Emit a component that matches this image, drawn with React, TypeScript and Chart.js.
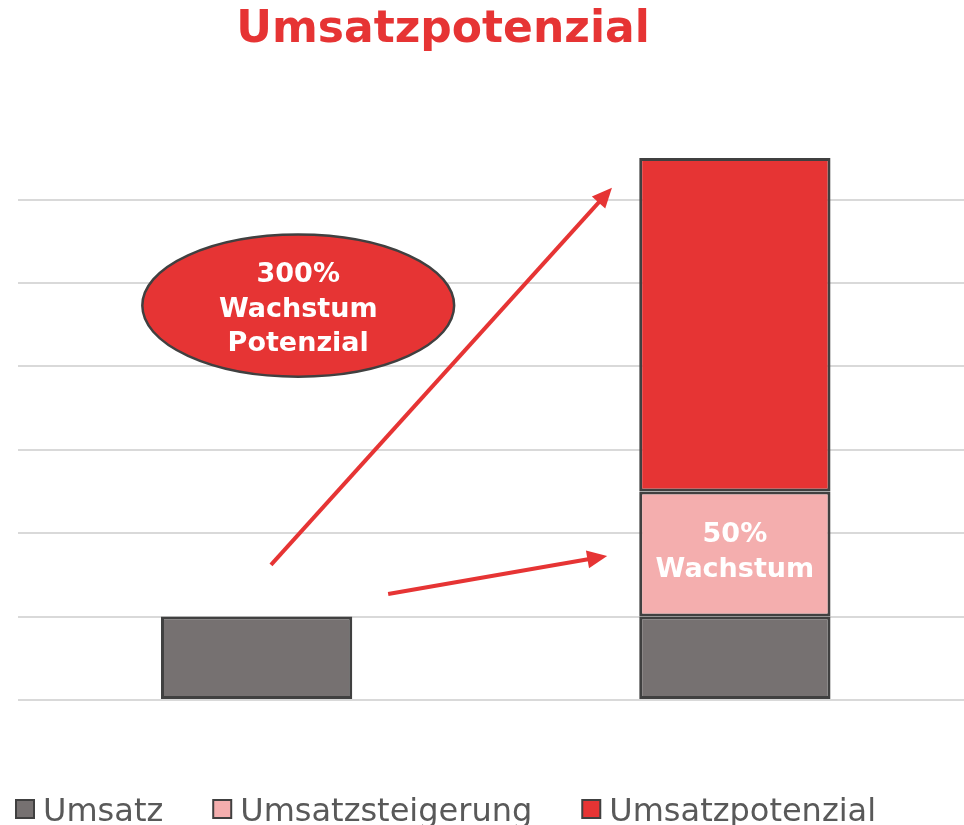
import React, { useEffect, useRef } from "react";
import { Chart, registerables } from "chart.js";

Chart.register(...registerables);

// ---- data ----
const categories = ["Heute", "Potenzial"];
const seriesNames = ["Umsatz", "Umsatzsteigerung", "Umsatzpotenzial"];
const umsatz = [1, 1];
const umsatzsteigerung = [null, 1.5];
const umsatzpotenzial = [null, 4];
const yMax = 6.5;
const titleText = "Umsatzpotenzial";
const bubbleLines = ["300%", "Wachstum", "Potenzial"];
const growthLines = ["50%", "Wachstum"];

// ---- style ----
const RED = "#e63434";
const PINK = "#f4aeae";
const GRAY = "#767171";
const STROKE = "#404040";
const FONT = "'DejaVu Sans', sans-serif";

// annotation anchors in data space (x = category index, y = value)
const bubble = { x: 0.087, y: 4.73, rx: 0.326, ry: 0.852 };
const arrowBig = { x0: 0.03, y0: 1.62, x1: 0.743, y1: 6.144 };
const arrowSmall = { x0: 0.275, y0: 1.272, x1: 0.733, y1: 1.728 };

function drawArrow(ctx: CanvasRenderingContext2D, ax: number, ay: number, bx: number, by: number) {
  const ang = Math.atan2(by - ay, bx - ax);
  const head = 20;
  const half = 9;
  const lx = bx - Math.cos(ang) * head;
  const ly = by - Math.sin(ang) * head;
  ctx.save();
  ctx.strokeStyle = RED;
  ctx.fillStyle = RED;
  ctx.lineWidth = 4;
  ctx.beginPath();
  ctx.moveTo(ax, ay);
  ctx.lineTo(lx + Math.cos(ang) * 2, ly + Math.sin(ang) * 2);
  ctx.stroke();
  ctx.beginPath();
  ctx.moveTo(bx, by);
  ctx.lineTo(lx + Math.sin(ang) * half, ly - Math.cos(ang) * half);
  ctx.lineTo(lx - Math.sin(ang) * half, ly + Math.cos(ang) * half);
  ctx.closePath();
  ctx.fill();
  ctx.restore();
}

const decorPlugin = {
  id: "decor",
  afterDatasetsDraw(chart: any) {
    const { ctx } = chart;
    const x = chart.scales.x;
    const y = chart.scales.y;

    // arrows
    drawArrow(ctx, x.getPixelForValue(arrowBig.x0), y.getPixelForValue(arrowBig.y0), x.getPixelForValue(arrowBig.x1), y.getPixelForValue(arrowBig.y1));
    drawArrow(ctx, x.getPixelForValue(arrowSmall.x0), y.getPixelForValue(arrowSmall.y0), x.getPixelForValue(arrowSmall.x1), y.getPixelForValue(arrowSmall.y1));

    // bubble
    const cx = x.getPixelForValue(bubble.x);
    const cy = y.getPixelForValue(bubble.y);
    const rx = Math.abs(x.getPixelForValue(bubble.x + bubble.rx) - cx);
    const ry = Math.abs(y.getPixelForValue(bubble.y + bubble.ry) - cy);
    ctx.save();
    ctx.beginPath();
    ctx.ellipse(cx, cy, rx, ry, 0, 0, Math.PI * 2);
    ctx.fillStyle = RED;
    ctx.fill();
    ctx.lineWidth = 2.5;
    ctx.strokeStyle = STROKE;
    ctx.stroke();
    ctx.fillStyle = "#ffffff";
    ctx.font = `bold 27px ${FONT}`;
    ctx.textAlign = "center";
    ctx.textBaseline = "alphabetic";
    const offs = [-24, 11, 45];
    bubbleLines.forEach((t, i) => ctx.fillText(t, cx, cy + offs[i]));

    // growth label inside pink segment
    const gx = x.getPixelForValue(1);
    const base = umsatz[1] as number;
    const gy = y.getPixelForValue(base + (umsatzsteigerung[1] as number) / 2);
    const goffs = [-12, 23];
    growthLines.forEach((t, i) => ctx.fillText(t, gx, gy + goffs[i]));
    ctx.restore();
  },
  afterDraw(chart: any) {
    const { ctx } = chart;
    ctx.save();
    // title
    ctx.fillStyle = RED;
    ctx.font = `bold 44px ${FONT}`;
    ctx.textAlign = "center";
    ctx.textBaseline = "alphabetic";
    ctx.fillText(titleText, 443, 42);

    // legend
    const colors = [GRAY, PINK, RED];
    ctx.font = `32px ${FONT}`;
    ctx.textAlign = "left";
    let px = 16;
    seriesNames.forEach((name, i) => {
      ctx.fillStyle = colors[i];
      ctx.fillRect(px, 800, 18, 18);
      ctx.lineWidth = 2;
      ctx.strokeStyle = STROKE;
      ctx.strokeRect(px, 800, 18, 18);
      ctx.fillStyle = "#595959";
      ctx.fillText(name, px + 27, 821);
      px += 27 + ctx.measureText(name).width + 50;
    });
    ctx.restore();
  },
};

export default function App() {
  const ref = useRef<HTMLCanvasElement>(null);

  useEffect(() => {
    if (!ref.current) return;
    const chart = new Chart(ref.current, {
      type: "bar",
      data: {
        labels: categories,
        datasets: [
          { label: seriesNames[0], data: umsatz, backgroundColor: GRAY, borderColor: STROKE, borderWidth: 3, borderSkipped: false },
          { label: seriesNames[1], data: umsatzsteigerung, backgroundColor: PINK, borderColor: STROKE, borderWidth: 3, borderSkipped: false },
          { label: seriesNames[2], data: umsatzpotenzial, backgroundColor: RED, borderColor: STROKE, borderWidth: 3, borderSkipped: false },
        ],
      },
      options: {
        responsive: false,
        animation: false,
        events: [],
        layout: { padding: { top: 158, bottom: 125, left: 0, right: 0 } },
        datasets: { bar: { barPercentage: 0.4, categoryPercentage: 1 } },
        plugins: { legend: { display: false }, title: { display: false }, tooltip: { enabled: false } },
        scales: {
          x: { stacked: true, display: false },
          y: {
            stacked: true,
            min: 0,
            max: yMax,
            ticks: { display: false, stepSize: 1, includeBounds: false },
            border: { display: false },
            grid: { color: "#d9d9d9", lineWidth: 2, drawTicks: false },
            afterFit: (s: any) => { s.width = 17.5; },
          },
        },
      },
      plugins: [decorPlugin],
    });
    return () => chart.destroy();
  }, []);

  return (
    <div style={{ position: "fixed", left: 0, top: 0, width: 964, height: 825, overflow: "hidden", background: "#fff" }}>
      <canvas ref={ref} width={974} height={825} style={{ display: "block" }} />
    </div>
  );
}
